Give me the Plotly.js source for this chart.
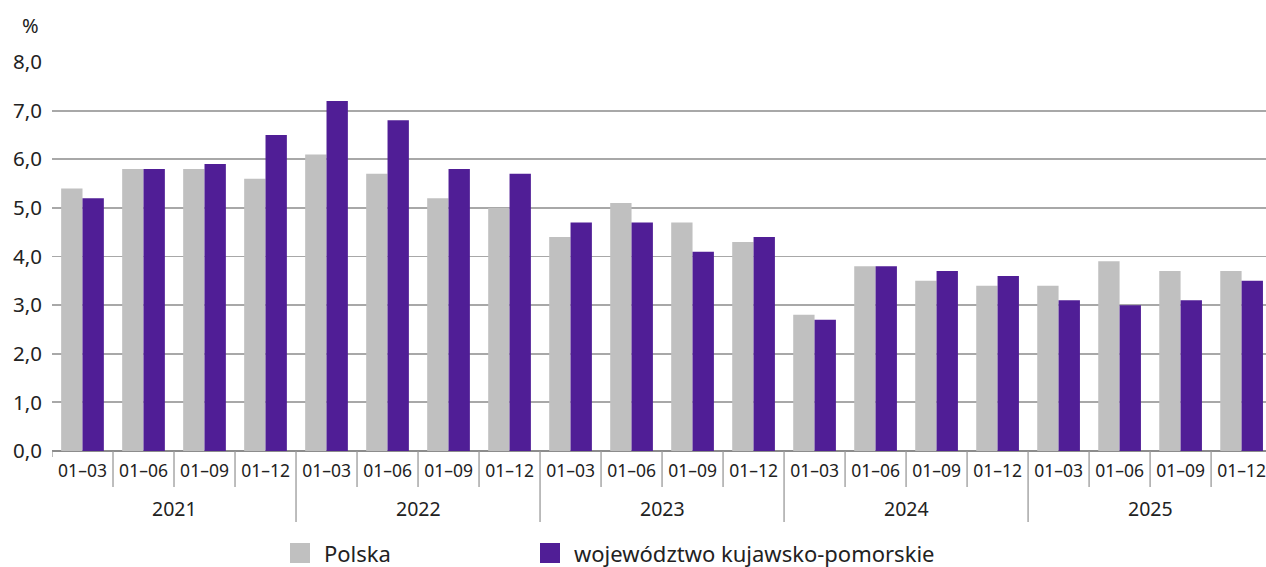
<!DOCTYPE html>
<html><head><meta charset="utf-8">
<script src="https://cdn.plot.ly/plotly-3.0.1.min.js"></script>
<style>html,body{margin:0;padding:0;background:#fff}#chart{width:1266px;height:567px}</style>
</head><body><div id="chart"></div>
<script>
const years = ["2021","2022","2023","2024","2025"];
const periods = ["01–03","01–06","01–09","01–12"];
const polska = [5.4,5.8,5.8,5.6, 6.1,5.7,5.2,5.0, 4.4,5.1,4.7,4.3, 2.8,3.8,3.5,3.4, 3.4,3.9,3.7,3.7];
const kujawsko = [5.2,5.8,5.9,6.5, 7.2,6.8,5.8,5.7, 4.7,4.7,4.1,4.4, 2.7,3.8,3.7,3.6, 3.1,3.0,3.1,3.5];
const seriesNames = ["Polska","województwo kujawsko-pomorskie"];
const colors = ["#c0c0c0","#501e96"];

const n = polska.length;
const idx = [...Array(n).keys()];
const ticktext = idx.map(i => periods[i % periods.length]);

const font = "Noto Sans, Open Sans, sans-serif";
const plotLeft = 52, W = 1266;
const plotTop = 62, plotBottom = 451, H = 567;
const ph = plotBottom - plotTop, pw = W - plotLeft;
const py = px => (plotBottom - px) / ph;
const pxx = px => (px - plotLeft) / pw;

const shapes = [];
for (let i = 0; i < n - 1; i++) {
  const b = i + 0.5;
  const isYear = (i + 1) % periods.length === 0;
  shapes.push({type:"line", xref:"x", yref:"paper", x0:b, x1:b, y0:0, y1: py(isYear ? 522 : 487),
    line:{color:"#9a9a9a", width:1.3}});
}
shapes.push({type:"line", xref:"x", yref:"paper", x0:-0.5, x1:-0.5, y0:0, y1:py(457), line:{color:"#9a9a9a", width:1.3}});

const annotations = years.map((y, k) => ({
  text: y, xref:"x", yref:"paper", x: k*periods.length + (periods.length-1)/2, y: py(508),
  showarrow:false, font:{family:font, size:19.5, color:"#222"}, yanchor:"middle"
}));
annotations.push({text:"%", xref:"paper", yref:"paper", x:pxx(30), y:py(25), showarrow:false,
  font:{family:font, size:20, color:"#222"}, xanchor:"center", yanchor:"middle"});

// manual legend
const legendPos = [290, 540];
seriesNames.forEach((nm, s) => {
  shapes.push({type:"rect", xref:"paper", yref:"paper", x0:pxx(legendPos[s]), x1:pxx(legendPos[s]+20),
    y0:py(563), y1:py(543), fillcolor:colors[s], line:{width:0}});
  annotations.push({text:nm, xref:"paper", yref:"paper", x:pxx(legendPos[s]+32), y:py(553),
    xanchor:"left", yanchor:"middle", showarrow:false, font:{family:font, size:22, color:"#222"}});
});

const traces = [polska, kujawsko].map((vals, s) => ({
  type:"bar", x: idx, y: vals, name: seriesNames[s], marker:{color: colors[s]},
  hoverinfo:"y+name"
}));

const layout = {
  width:W, height:H,
  margin:{l:plotLeft, r:0, t:plotTop, b:H-plotBottom},
  paper_bgcolor:"#fff", plot_bgcolor:"#fff",
  separators:", ",
  barmode:"group", bargap:0.3, bargroupgap:0,
  font:{family:font, color:"#222"},
  xaxis:{range:[-0.5, n-0.6], tickvals: idx, ticktext: ticktext, ticks:"", showgrid:false,
    zeroline:false, showline:false, tickfont:{family:font, size:17.5, color:"#222"}, ticklabelstandoff:7},
  yaxis:{range:[0,8], dtick:1, tickformat:".1f", showgrid:true, gridcolor:"#a8a8a8", gridwidth:1.8,
    zeroline:true, zerolinecolor:"#8c8c8c", zerolinewidth:2, showline:false, ticks:"",
    tickfont:{family:font, size:20.5, color:"#222"}, ticklabelstandoff:9},
  shapes: shapes,
  annotations: annotations,
  showlegend:false
};

Plotly.newPlot("chart", traces, layout, {displayModeBar:false, staticPlot:true});
</script></body></html>
